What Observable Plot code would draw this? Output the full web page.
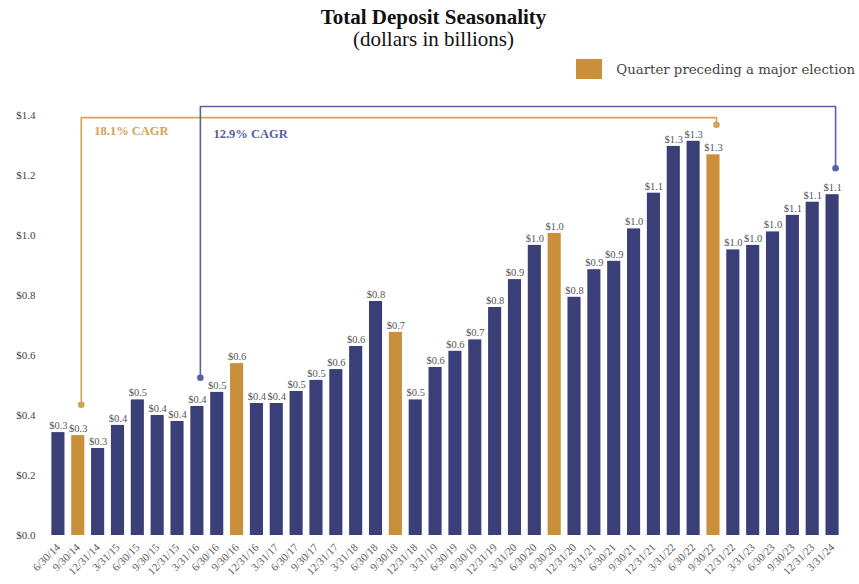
<!DOCTYPE html>
<html>
<head>
<meta charset="utf-8">
<script src="https://cdn.jsdelivr.net/npm/d3@7"></script>
<script src="https://cdn.jsdelivr.net/npm/@observablehq/plot@0.6"></script>
<style>
  html, body { margin: 0; padding: 0; background: #fff; }
  #wrap { position: relative; width: 859px; height: 584px; overflow: hidden; font-family: "Liberation Serif", serif; }
  #title { position: absolute; top: 5px; left: 8px; width: 851px; text-align: center; font-size: 21px; line-height: 24px; font-weight: bold; color: #111; }
  #subtitle { position: absolute; top: 27px; left: 8px; width: 851px; text-align: center; font-size: 21px; line-height: 24px; color: #111; }
  #legend { position: absolute; top: 59px; right: 4px; display: flex; align-items: center; gap: 14px; font-family: "DejaVu Serif", serif; font-size: 13.3px; color: #444; }
  #legend .swatch { width: 26px; height: 20px; background: #c98f3a; }
  #chart { position: absolute; top: 85px; left: 0; }
</style>
</head>
<body>
<div id="wrap">
  <div id="title">Total Deposit Seasonality</div>
  <div id="subtitle">(dollars in billions)</div>
  <div id="legend"><div class="swatch"></div><div>Quarter preceding a major election</div></div>
  <div id="chart"></div>
</div>
<script>
// Quarter-end dates
const quarters = [
  "6/30/14", "9/30/14", "12/31/14",
  "3/31/15", "6/30/15", "9/30/15", "12/31/15",
  "3/31/16", "6/30/16", "9/30/16", "12/31/16",
  "3/31/17", "6/30/17", "9/30/17", "12/31/17",
  "3/31/18", "6/30/18", "9/30/18", "12/31/18",
  "3/31/19", "6/30/19", "9/30/19", "12/31/19",
  "3/31/20", "6/30/20", "9/30/20", "12/31/20",
  "3/31/21", "6/30/21", "9/30/21", "12/31/21",
  "3/31/22", "6/30/22", "9/30/22", "12/31/22",
  "3/31/23", "6/30/23", "9/30/23", "12/31/23",
  "3/31/24"
];

// Total deposits, $ billions
const deposits = [
  0.343, 0.333, 0.290,
  0.367, 0.452, 0.400, 0.380,
  0.430, 0.477, 0.573, 0.440,
  0.440, 0.480, 0.517, 0.553,
  0.630, 0.780, 0.677, 0.452,
  0.560, 0.614, 0.652, 0.760,
  0.853, 0.967, 1.007, 0.794,
  0.886, 0.914, 1.022, 1.141,
  1.297, 1.314, 1.269, 0.952,
  0.967, 1.012, 1.067, 1.111,
  1.136
];

// Quarters preceding a major election
const electionQuarters = ["9/30/14", "9/30/16", "9/30/18", "9/30/20", "9/30/22"];

// Growth brackets
const cagrLabels = ["18.1% CAGR", "12.9% CAGR"];
const cagrFrom = ["9/30/14", "3/31/16"];
const cagrTo = ["9/30/22", "3/31/24"];
const cagrStartY = [0.436, 0.526];
const cagrTopY = [1.393, 1.430];
const cagrEndY = [1.369, 1.224];
const cagrTextY = [1.350, 1.337];
const cagrColors = ["#d4a258", "#5562a3"];

const yTicks = [0, 0.2, 0.4, 0.6, 0.8, 1.0, 1.2, 1.4];

const NAVY = "#3a3f78";
const GOLD = "#c98f3a";

const rows = quarters.map((q, i) => ({
  quarter: q,
  value: deposits[i],
  election: electionQuarters.includes(q)
}));

const fmtValue = v => "$" + v.toFixed(1);

const bracketLines = [];
const bracketDots = [];
const bracketTexts = [];
cagrLabels.forEach((label, k) => {
  const pts = [
    {quarter: cagrFrom[k], y: cagrStartY[k]},
    {quarter: cagrFrom[k], y: cagrTopY[k]},
    {quarter: cagrTo[k], y: cagrTopY[k]},
    {quarter: cagrTo[k], y: cagrEndY[k]}
  ];
  pts.forEach(p => bracketLines.push({...p, id: k, color: cagrColors[k]}));
  bracketDots.push({quarter: cagrFrom[k], y: cagrStartY[k], color: cagrColors[k]});
  bracketDots.push({quarter: cagrTo[k], y: cagrEndY[k], color: cagrColors[k]});
  bracketTexts.push({quarter: cagrFrom[k], y: cagrTextY[k], text: label, color: cagrColors[k]});
});

const chart = Plot.plot({
  width: 859,
  height: 499,
  marginLeft: 48,
  marginRight: 17,
  marginTop: 30,
  marginBottom: 49,
  style: {fontFamily: "'Liberation Serif', serif", background: "#fff"},
  x: {domain: quarters, paddingInner: 0.34, paddingOuter: 0.17, label: null},
  y: {domain: [0, 1.4], label: null},
  marks: [
    Plot.barY(rows, {
      x: "quarter", y: "value",
      fill: d => d.election ? GOLD : NAVY
    }),
    Plot.text(rows, {
      x: "quarter", y: "value", text: d => fmtValue(d.value),
      dy: -7, fontSize: 10.5, fill: "#555"
    }),
    Plot.line(bracketLines, {
      x: "quarter", y: "y", z: "id", stroke: "color", strokeWidth: 1.6, dx: 3
    }),
    Plot.dot(bracketDots, {
      x: "quarter", y: "y", fill: "color", r: 3.3, dx: 3
    }),
    Plot.text(bracketTexts, {
      x: "quarter", y: "y", text: "text", fill: "color",
      fontWeight: "bold", fontSize: 12.5, textAnchor: "start", dx: 16
    }),
    Plot.axisY({
      ticks: yTicks, tickSize: 0, tickPadding: 13,
      tickFormat: d => "$" + d.toFixed(1), fontSize: 11, color: "#444"
    }),
    Plot.axisX({
      tickRotate: -45, tickSize: 0, tickPadding: 10,
      fontSize: 11, color: "#5a5a5a", label: null
    })
  ]
});

document.getElementById("chart").appendChild(chart);
</script>
</body>
</html>
